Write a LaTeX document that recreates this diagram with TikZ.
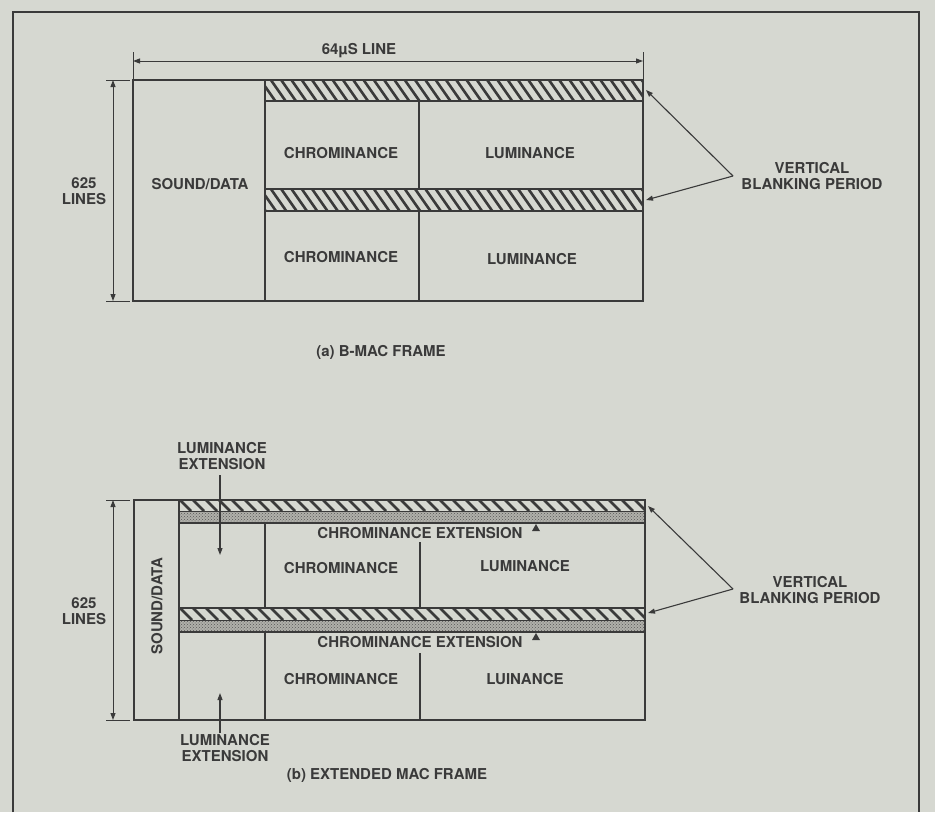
\documentclass[tikz,border=0pt]{standalone}
\usepackage{fontspec}
\setmainfont{TeX Gyre Heros}
\usetikzlibrary{arrows.meta,patterns}
\definecolor{bg}{RGB}{214,216,209}
\definecolor{ink}{RGB}{58,58,58}
\definecolor{stip}{RGB}{176,176,170}
\newcommand{\hatchrect}[6]{% x1 y1 x2 y2 spacing dxfactor
  \begin{scope}
    \clip (#1,#2) rectangle (#3,#4);
    \pgfmathsetmacro{\hh}{#4-#2}
    \foreach \k in {0,...,60} {
      \pgfmathsetmacro{\xx}{#1-25+\k*#5}
      \draw[hatchln] (\xx,#2) -- ++(\hh*#6,\hh);
    }
  \end{scope}}
\newcommand{\stiprect}[4]{%
  \fill[stip] (#1,#2) rectangle (#3,#4);
  \fill[pattern=crosshatch dots, pattern color=ink!85] (#1,#2) rectangle (#3,#4);}
\tikzset{
  box/.style={draw=ink, line width=2pt},
  hatchln/.style={ink, line width=2.6pt},
  thin/.style={draw=ink, line width=1pt},
  dim/.style={draw=ink, line width=1pt, {Triangle[length=7pt,width=5pt]}-{Triangle[length=7pt,width=5pt]}},
  lead/.style={draw=ink, line width=1.1pt, -{Triangle[length=7pt,width=5pt]}},
  lbl/.style={text=ink, font=\fontsize{15}{16.5}\selectfont\bfseries, inner sep=0pt, text height=10.8pt, text depth=0pt},
  mlbl/.style={text=ink, font=\fontsize{15}{16.5}\selectfont\bfseries, inner sep=0pt, align=center, anchor=north},
}
\begin{document}
\begin{tikzpicture}[x=1pt,y=-1pt]
\fill[bg] (0,0) rectangle (935,812);
\useasboundingbox (0,0) rectangle (935,812);
% page frame
\draw[ink, line width=1.5pt] (13,812) -- (13,12) -- (919,12) -- (919,812);

% ================= (a) B-MAC frame =================
\hatchrect{265}{80}{643}{101}{10.3}{0.7}
\hatchrect{265}{189}{643}{211}{10.3}{0.7}
\draw[box] (133,80) rectangle (643,301);
\draw[box] (265,80) -- (265,301);
\draw[box] (265,101) -- (643,101);
\draw[box] (265,189) -- (643,189);
\draw[box] (265,211) -- (643,211);
\draw[box] (419,101) -- (419,189);
\draw[box] (419,211) -- (419,301);

\node[lbl] (aSD) at (200,184) {SOUND/DATA};
\node[lbl] (aC1) at (341,153) {CHROMINANCE};
\node[lbl] (aL1) at (530,153) {LUMINANCE};
\node[lbl] (aC2) at (341,257) {CHROMINANCE};
\node[lbl] (aL2) at (532,259) {LUMINANCE};

% horizontal dimension
\coordinate (hL) at (133,61);
\coordinate (hR) at (643,61);
\draw[thin] (133,52) -- (133,80);
\draw[thin] (643,52) -- (643,80);
\draw[dim] (hL) -- (hR);
\node[lbl] (aLine) at (359,49) {64µS LINE};

% vertical dimension
\coordinate (vT) at (113,80);
\coordinate (vB) at (113,301);
\draw[thin] (106,80) -- (130,80);
\draw[thin] (106,301) -- (130,301);
\draw[dim] (vT) -- (vB);
\node[mlbl] (a625) at (84,177) {625\\LINES};

% vertical blanking period
\node[mlbl] (aVBP) at (812,162) {VERTICAL\\BLANKING PERIOD};
\coordinate (aV) at (733,176);
\coordinate (aT1) at (646,90);
\coordinate (aT2) at (646,200);
\draw[lead] (aV) -- (aT1);
\draw[lead] (aV) -- (aT2);

\node[lbl] (aCap) at (381,351) {(a) B-MAC FRAME};

% ================= (b) Extended MAC frame =================
\hatchrect{179}{500}{645}{511}{13}{1.0}
\stiprect{179}{511}{645}{523}
\hatchrect{179}{608}{645}{620}{13}{1.0}
\stiprect{179}{620}{645}{632}
\draw[box] (134,500) rectangle (645,720);
\draw[box] (179,500) -- (179,720);
\draw[thin] (179,511) -- (645,511);
\draw[box] (179,523) -- (645,523);
\draw[box] (179,608) -- (645,608);
\draw[thin] (179,620) -- (645,620);
\draw[box] (179,632) -- (645,632);
\draw[box] (265,523) -- (265,608);
\draw[box] (265,632) -- (265,720);
\draw[box] (420,542) -- (420,608);
\draw[box] (420,653) -- (420,720);

\node[lbl, rotate=90] (bSD) at (157,606) {SOUND/DATA};
\node[lbl] (bC1) at (341,568) {CHROMINANCE};
\node[lbl] (bL1) at (525,566) {LUMINANCE};
\node[lbl] (bC2) at (341,679) {CHROMINANCE};
\node[lbl] (bL2) at (525,679) {LUINANCE};
\node[lbl] (bCE1) at (420,533) {CHROMINANCE EXTENSION};
\node[lbl] (bCE2) at (420,642) {CHROMINANCE EXTENSION};
\fill[ink] (532,531) -- (540,531) -- (536,524) -- cycle;
\fill[ink] (532,640) -- (540,640) -- (536,633) -- cycle;

% luminance extension
\node[mlbl] (bLE1) at (222,442) {LUMINANCE\\EXTENSION};
\node[mlbl] (bLE2) at (225,734) {LUMINANCE\\EXTENSION};
\coordinate (le1a) at (220,475);
\coordinate (le1b) at (220,555);
\coordinate (le2a) at (220,733);
\coordinate (le2b) at (220,693);
\draw[lead] (le1a) -- (le1b);
\draw[lead] (le2a) -- (le2b);

% vertical dimension
\coordinate (wT) at (113,500);
\coordinate (wB) at (113,720);
\draw[thin] (106,500) -- (130,500);
\draw[thin] (106,720) -- (130,720);
\draw[dim] (wT) -- (wB);
\node[mlbl] (b625) at (84,597) {625\\LINES};

% vertical blanking period
\node[mlbl] (bVBP) at (810,576) {VERTICAL\\BLANKING PERIOD};
\coordinate (bV) at (733,589);
\coordinate (bT1) at (648,506);
\coordinate (bT2) at (648,613);
\draw[lead] (bV) -- (bT1);
\draw[lead] (bV) -- (bT2);

\node[lbl] (bCap) at (387,774) {(b) EXTENDED MAC FRAME};
\end{tikzpicture}
\end{document}
